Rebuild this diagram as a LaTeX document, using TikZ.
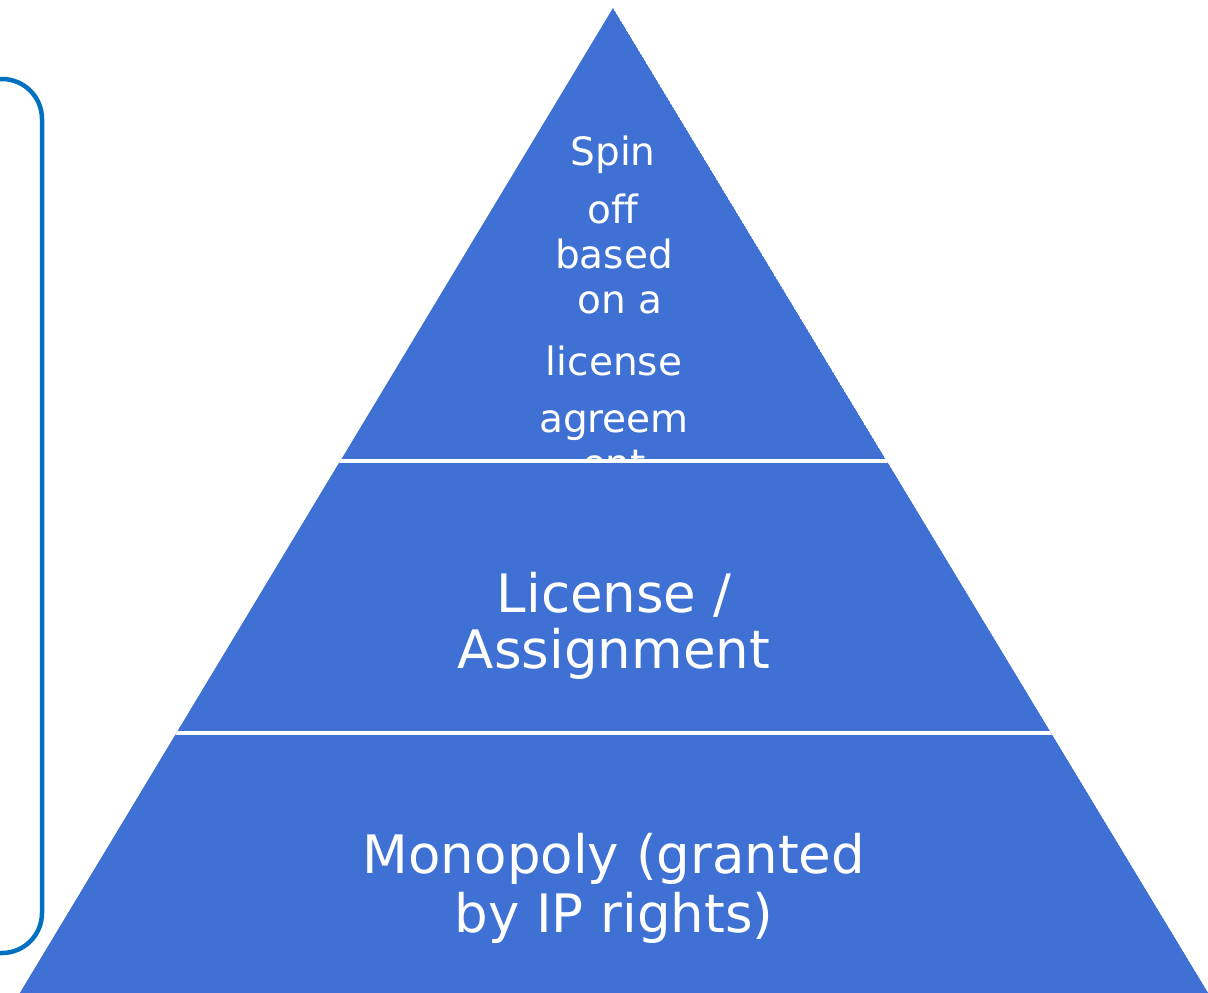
\documentclass[tikz,border=0pt]{standalone}
\usepackage{fontspec}
\setmainfont[Ligatures={NoCommon,NoRequired}]{DejaVu Sans}
\definecolor{pyr}{RGB}{63,112,212}
\definecolor{brk}{RGB}{0,112,192}
\begin{document}
\begin{tikzpicture}[x=1pt,y=-1pt,
  tier/.style={fill=pyr,draw=none},
  sep/.style={draw=white,line width=4pt},
  small/.style={text=white,anchor=base,inner sep=0pt,font=\fontsize{39}{44}\selectfont},
  big/.style={text=white,anchor=base,inner sep=0pt,font=\fontsize{53}{58}\selectfont},
  bracket/.style={draw=brk,line width=4.5pt,rounded corners=40pt}]
\useasboundingbox (0,0) rectangle (1208,993);
\coordinate (apex) at (613,8);
\coordinate (bl) at (20,993);
\coordinate (br) at (1208,993);
\begin{scope}
\clip (apex) -- (bl) -- (br) -- cycle;
% top tier
\fill[tier] (apex) -- (bl) -- (br) -- cycle;
% top tier text (overflowing, partly covered by middle tier)
\node[small] (spin) at (613,165) {Spin};
\node[small] (off) at (613,223) {of{}f};
\node[small] (based) at (614,268) {based};
\node[small] (ona) at (620,313) {on a};
\node[small] (lic) at (614,375) {license};
\node[small] (agr) at (614,432) {agreem};
\node[small] (ent) at (614,477) {ent};
% middle and bottom tiers cover the overflow
\fill[tier] (0,461) rectangle (1208,993);
\draw[sep] (0,461) -- (1208,461);
\draw[sep] (0,733) -- (1208,733);
\end{scope}
% middle tier text
\node[big] (mid1) at (614,612) {License /};
\node[big] (mid2) at (614,668) {Assignment};
% bottom tier text
\node[big] (bot1) at (614,873) {Monopoly (granted};
\node[big] (bot2) at (614,932) {by IP rights)};
% left bracket
\draw[bracket] (-20,79) -- (42,79) -- (42,953) -- (-20,953);
\end{tikzpicture}
\end{document}
